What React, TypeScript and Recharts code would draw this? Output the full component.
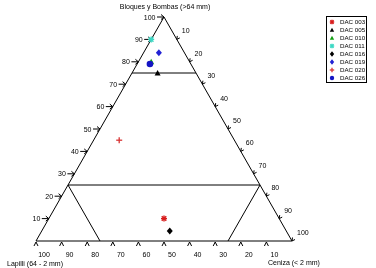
import React from "react";
import { ScatterChart, Scatter, XAxis, YAxis, ReferenceLine } from "recharts";

// sample composition (%)
const samples = ["DAC 003", "DAC 005", "DAC 010", "DAC 011", "DAC 016", "DAC 019", "DAC 020", "DAC 026"];
const bloques = [10, 75, 80, 90, 4.5, 84, 45, 79];
const lapilli = [45, 15, 15, 10, 45.5, 10, 45, 16];
const ceniza = [45, 10, 5, 0, 50, 6, 10, 5];
const colors = ["#d81c1c", "#000000", "#12a012", "#3cd8c4", "#000000", "#2222d4", "#d83434", "#1414c4"];
const markers = ["asterisk", "triangle", "triangle", "asterisk", "diamond", "diamond", "plus", "circle"];

const tickValues = [10, 20, 30, 40, 50, 60, 70, 80, 90, 100];
const titleTop = "Bloques y Bombas (>64 mm)";
const titleLeft = "Lapilli (64 - 2 mm)";
const titleRight = "Ceniza (< 2 mm)";

// field boundaries, [bloques, lapilli, ceniza] at each end
const fieldLines = [
  [[100, 0, 0], [0, 100, 0]],
  [[100, 0, 0], [0, 0, 100]],
  [[0, 100, 0], [0, 0, 100]],
  [[75, 25, 0], [75, 0, 25]],
  [[25, 75, 0], [25, 0, 75]],
  [[25, 75, 0], [0, 75, 25]],
  [[25, 0, 75], [0, 25, 75]],
];

const FONT = "'Liberation Sans', Arial, sans-serif";
const gray = { filter: "grayscale(1)" };

const toXY = (b: number, l: number, c: number) => {
  const t = b + l + c;
  return { x: ((c + b / 2) / t) * 100, y: (b / t) * 100 };
};

const leftTicks = tickValues.map((v) => ({ ...toXY(v, 100 - v, 0), label: String(v) }));
const rightTicks = tickValues.map((v) => ({ ...toXY(100 - v, 0, v), label: String(v) }));
const bottomTicks = tickValues.map((v) => ({ ...toXY(0, v, 100 - v), label: String(v) }));
const corners = [
  { ...toXY(100, 0, 0), label: titleTop, dx: 1, dy: -8, anchor: "middle" },
  { ...toXY(0, 100, 0), label: titleLeft, dx: -29, dy: 25, anchor: "start" },
  { ...toXY(0, 0, 100), label: titleRight, dx: -24, dy: 24, anchor: "start" },
];

function Marker({ kind, color, cx, cy, s = 3 }: any) {
  if (kind === "asterisk") {
    return (
      <g stroke={color} strokeWidth={1.4}>
        <line x1={cx - s} y1={cy} x2={cx + s} y2={cy} />
        <line x1={cx} y1={cy - s} x2={cx} y2={cy + s} />
        <line x1={cx - s * 0.75} y1={cy - s * 0.75} x2={cx + s * 0.75} y2={cy + s * 0.75} />
        <line x1={cx - s * 0.75} y1={cy + s * 0.75} x2={cx + s * 0.75} y2={cy - s * 0.75} />
      </g>
    );
  }
  if (kind === "plus") {
    return (
      <g stroke={color} strokeWidth={1.3}>
        <line x1={cx - s} y1={cy} x2={cx + s} y2={cy} />
        <line x1={cx} y1={cy - s} x2={cx} y2={cy + s} />
      </g>
    );
  }
  if (kind === "triangle") {
    return <polygon points={`${cx},${cy - s} ${cx + s},${cy + s * 0.8} ${cx - s},${cy + s * 0.8}`} fill={color} />;
  }
  if (kind === "diamond") {
    return <polygon points={`${cx},${cy - s - 0.5} ${cx + s},${cy} ${cx},${cy + s + 0.5} ${cx - s},${cy}`} fill={color} />;
  }
  return <circle cx={cx} cy={cy} r={s} fill={color} />;
}

function LeftTick({ cx, cy, payload }: any) {
  return (
    <g stroke="#000" fill="none">
      <line x1={cx - 7} y1={cy} x2={cx} y2={cy} />
      <polyline points={`${cx - 3},${cy - 2.5} ${cx},${cy} ${cx - 3},${cy + 2.5}`} />
      <text x={cx - 8.5} y={cy + 2.5} textAnchor="end" fontSize={7} fill="#000" stroke="none" fontFamily={FONT} style={gray}>
        {payload.label}
      </text>
    </g>
  );
}

function RightTick({ cx, cy, payload }: any) {
  return (
    <g stroke="#000" fill="none">
      <polyline points={`${cx + 3},${cy - 1.5} ${cx},${cy} ${cx + 0.5},${cy - 3.5}`} />
      <text x={cx + 5} y={cy - 6} fontSize={7} fill="#000" stroke="none" fontFamily={FONT} style={gray}>
        {payload.label}
      </text>
    </g>
  );
}

function BottomTick({ cx, cy, payload }: any) {
  return (
    <g stroke="#000" fill="none">
      <polyline points={`${cx - 2},${cy + 5} ${cx},${cy + 1} ${cx + 2},${cy + 5}`} />
      <text x={cx + 8} y={cy + 16} textAnchor="middle" fontSize={7} fill="#000" stroke="none" fontFamily={FONT} style={gray}>
        {payload.label}
      </text>
    </g>
  );
}

function CornerTitle({ cx, cy, payload }: any) {
  return (
    <text x={cx + payload.dx} y={cy + payload.dy} textAnchor={payload.anchor} fontSize={7} fill="#000" fontFamily={FONT} style={gray}>
      {payload.label}
    </text>
  );
}

function LegendBox() {
  return (
    <div
      style={{
        position: "absolute",
        left: 326,
        top: 16,
        width: 41,
        height: 67,
        border: "1px solid #000",
        background: "#fff",
        fontFamily: FONT,
        fontSize: 6.2,
        paddingTop: 0.5,
        boxSizing: "border-box",
      }}
    >
      {samples.map((name, i) => (
        <div key={name} style={{ display: "flex", alignItems: "center", height: 8.1, lineHeight: "8.1px" }}>
          <svg width={11} height={8} style={{ flex: "none" }}>
            <Marker kind={markers[i]} color={colors[i]} cx={5} cy={4} s={2.2} />
          </svg>
          <span style={{ marginLeft: 2, whiteSpace: "nowrap", ...gray }}>{name}</span>
        </div>
      ))}
    </div>
  );
}

export default function App() {
  return (
    <div style={{ position: "absolute", left: 0, top: 0, width: 376, height: 268, fontFamily: FONT }}>
      <ScatterChart width={376} height={268} margin={{ top: 17, right: 84, bottom: 27, left: 36 }}>
        <XAxis type="number" dataKey="x" domain={[0, 100]} hide />
        <YAxis type="number" dataKey="y" domain={[0, 100]} hide />
        {fieldLines.map(([a, b], i) => (
          <ReferenceLine
            key={i}
            segment={[toXY(a[0], a[1], a[2]), toXY(b[0], b[1], b[2])]}
            stroke="#000"
            strokeWidth={1}
            ifOverflow="visible"
          />
        ))}
        <Scatter data={leftTicks} shape={LeftTick} isAnimationActive={false} />
        <Scatter data={rightTicks} shape={RightTick} isAnimationActive={false} />
        <Scatter data={bottomTicks} shape={BottomTick} isAnimationActive={false} />
        <Scatter data={corners} shape={CornerTitle} isAnimationActive={false} />
        {samples.map((name, i) => (
          <Scatter
            key={name}
            name={name}
            data={[toXY(bloques[i], lapilli[i], ceniza[i])]}
            isAnimationActive={false}
            shape={(p: any) => (
              <Marker kind={markers[i]} color={colors[i]} cx={p.cx} cy={p.cy} s={markers[i] === "circle" ? 3.3 : 3} />
            )}
          />
        ))}
      </ScatterChart>
      <LegendBox />
    </div>
  );
}
